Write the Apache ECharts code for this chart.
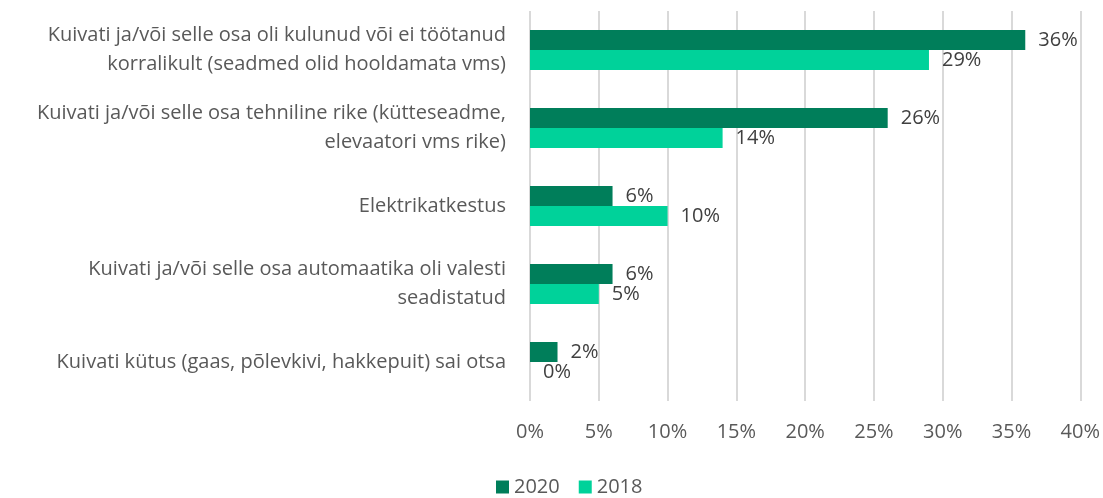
<!DOCTYPE html>
<html>
<head>
<meta charset="utf-8">
<script src="https://cdn.jsdelivr.net/npm/echarts@6/dist/echarts.min.js"></script>
<style>
  html, body { margin: 0; padding: 0; background: #fff; }
  #chart { width: 1103px; height: 498px; }
</style>
</head>
<body>
<div id="chart"></div>
<script>
const categories = [
  'Kuivati ja/või selle osa oli kulunud või ei töötanud\nkorralikult (seadmed olid hooldamata vms)',
  'Kuivati ja/või selle osa tehniline rike (kütteseadme,\nelevaatori vms rike)',
  'Elektrikatkestus',
  'Kuivati ja/või selle osa automaatika oli valesti\nseadistatud',
  'Kuivati kütus (gaas, põlevkivi, hakkepuit) sai otsa'
]
const values2020 = [36, 26, 6, 6, 2]
const values2018 = [29, 14, 10, 5, 0]

const font = '"Open Sans", sans-serif'

const chart = echarts.init(document.getElementById('chart'))
chart.setOption({
  animation: false,
  textStyle: { fontFamily: font },
  legend: {
    data: ['2020', '2018'],
    top: 472,
    left: 491,
    itemWidth: 13,
    itemHeight: 13,
    itemGap: 19,
    icon: 'rect',
    textStyle: { fontSize: 20, color: '#595959', fontFamily: font }
  },
  grid: {
    left: 530,
    right: 22,
    top: 11,
    bottom: 97
  },
  xAxis: {
    type: 'value',
    min: 0,
    max: 40,
    interval: 5,
    axisLabel: {
      formatter: '{value}%',
      fontSize: 20,
      color: '#595959',
      margin: 21
    },
    splitLine: { lineStyle: { color: '#d9d9d9', width: 2 } },
    axisLine: { show: false },
    axisTick: { show: false }
  },
  yAxis: {
    type: 'category',
    inverse: true,
    data: categories,
    axisLabel: {
      fontSize: 20,
      color: '#595959',
      margin: 24,
      lineHeight: 29,
      align: 'right'
    },
    axisLine: { show: false },
    axisTick: { show: false }
  },
  series: [
    {
      name: '2020',
      type: 'bar',
      data: values2020,
      barWidth: 20,
      barGap: '0%',
      itemStyle: { color: '#007e5a' },
      label: {
        show: true,
        position: 'right',
        distance: 13,
        formatter: '{c}%',
        fontSize: 20,
        color: '#404040'
      }
    },
    {
      name: '2018',
      type: 'bar',
      data: values2018,
      barWidth: 20,
      itemStyle: { color: '#00d29a' },
      label: {
        show: true,
        position: 'right',
        distance: 13,
        formatter: '{c}%',
        fontSize: 20,
        color: '#404040'
      }
    }
  ]
})
</script>
</body>
</html>
